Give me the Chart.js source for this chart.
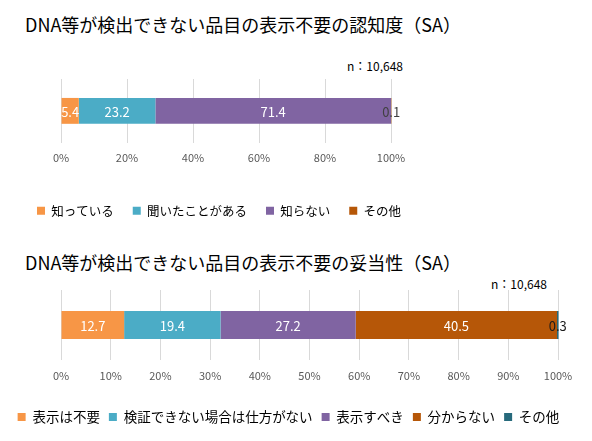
<!DOCTYPE html>
<html><head><meta charset="utf-8">
<script src="https://cdn.jsdelivr.net/npm/chart.js@4/dist/chart.umd.min.js"></script>
<style>
html,body{margin:0;padding:0;background:#fff;width:592px;height:441px;overflow:hidden;font-family:"Noto Sans CJK JP",sans-serif;}
.title{position:absolute;left:25px;font-size:18px;color:#000;white-space:nowrap;line-height:1;}
.n{position:absolute;font-size:12px;color:#000;white-space:nowrap;line-height:1;}
canvas{position:absolute;left:0;}
</style></head><body>
<div class="title" style="top:15px">DNA等が検出できない品目の表示不要の認知度（SA）</div>
<div class="n" style="left:347px;top:60px">n：10,648</div>
<canvas id="c1" width="592" height="228" style="top:0"></canvas>
<div class="title" style="top:253px">DNA等が検出できない品目の表示不要の妥当性（SA）</div>
<div class="n" style="left:491px;top:278px">n：10,648</div>
<canvas id="c2" width="592" height="213" style="top:228px"></canvas>
<script>
// ---- data ----
const categories1 = ['知っている', '聞いたことがある', '知らない', 'その他'];
const values1 = [5.4, 23.2, 71.4, 0.1];
const ticks1 = [0, 20, 40, 60, 80, 100];

const categories2 = ['表示は不要', '検証できない場合は仕方がない', '表示すべき', '分からない', 'その他'];
const values2 = [12.7, 19.4, 27.2, 40.5, 0.3];
const ticks2 = [0, 10, 20, 30, 40, 50, 60, 70, 80, 90, 100];

// ---- styles ----
const colors1 = ['#F79646', '#4BACC6', '#8064A2', '#B65708'];
const colors2 = ['#F79646', '#4BACC6', '#8064A2', '#B65708', '#276A7C'];
const FONT = '"Noto Sans CJK JP", sans-serif';

const valueLabels = {
  id: 'valueLabels',
  afterDatasetsDraw(chart, args, opts) {
    const ctx = chart.ctx;
    ctx.save();
    ctx.font = opts.size + 'px ' + FONT;
    ctx.textAlign = 'center';
    ctx.textBaseline = 'middle';
    chart.data.datasets.forEach((ds, i) => {
      const meta = chart.getDatasetMeta(i);
      meta.data.forEach((bar, j) => {
        const p = bar.getProps(['x', 'y', 'base'], true);
        ctx.fillStyle = (i === chart.data.datasets.length - 1) ? opts.lastColor : '#FFFFFF';
        ctx.fillText(ds.data[j].toFixed(1), (p.x + p.base) / 2, p.y + 1);
      });
    });
    ctx.restore();
  }
};

function makeChart(id, cats, vals, colors, tickVals, cfg) {
  const datasets = cats.map((c, i) => ({
    label: c,
    data: [vals[i]],
    backgroundColor: colors[i],
    borderWidth: 0,
    barPercentage: cfg.barPct,
    categoryPercentage: 1,
    clip: false
  }));
  return new Chart(document.getElementById(id), {
    type: 'bar',
    data: { labels: [''], datasets },
    plugins: [valueLabels],
    options: {
      indexAxis: 'y',
      responsive: false,
      animation: false,
      devicePixelRatio: 1,
      layout: { padding: { top: cfg.padTop, bottom: cfg.padBottom, left: 0, right: cfg.padRight } },
      scales: {
        x: {
          stacked: true, min: 0, max: 100,
          afterBuildTicks: s => { s.ticks = tickVals.map(v => ({ value: v })); },
          afterFit: s => { s.height = cfg.xHeight; },
          ticks: { padding: cfg.tickPad, color: '#595959', font: { family: FONT, size: 11 }, callback: v => v + '%' },
          grid: { color: '#D9D9D9', lineWidth: 1, drawTicks: false },
          border: { display: false }
        },
        y: {
          stacked: true,
          afterFit: s => { s.width = cfg.leftW; },
          ticks: { display: false },
          grid: { display: false },
          border: { display: false }
        },
        yr: {
          type: 'linear', position: 'right', min: 0, max: 1,
          afterFit: s => { s.width = cfg.rightW; },
          ticks: { display: false },
          grid: { display: false },
          border: { display: false }
        }
      },
      plugins: {
        title: { display: false },
        tooltip: { enabled: false },
        valueLabels: { size: 13, lastColor: cfg.lastColor },
        legend: {
          display: true, position: 'bottom',
          labels: {
            boxWidth: 8, boxHeight: 8, padding: cfg.legPad, color: '#000',
            font: { family: FONT, size: cfg.legSize }
          }
        }
      }
    }
  });
}

makeChart('c1', categories1, values1, colors1, ticks1, {
  barPct: 0.406, padTop: 79, padBottom: 1, padRight: 154, xHeight: 42.75, tickPad: 8,
  leftW: 61, rightW: 47, legPad: 19, legSize: 12.5, lastColor: '#404040'
});
makeChart('c2', categories2, values2, colors2, ticks2, {
  barPct: 0.4, padTop: 62, padBottom: 7.25, padRight: 15, xHeight: 41.25, tickPad: 9,
  leftW: 61, rightW: 19, legPad: 9, legSize: 13.5, lastColor: '#1A1A1A'
});
</script>
</body></html>
